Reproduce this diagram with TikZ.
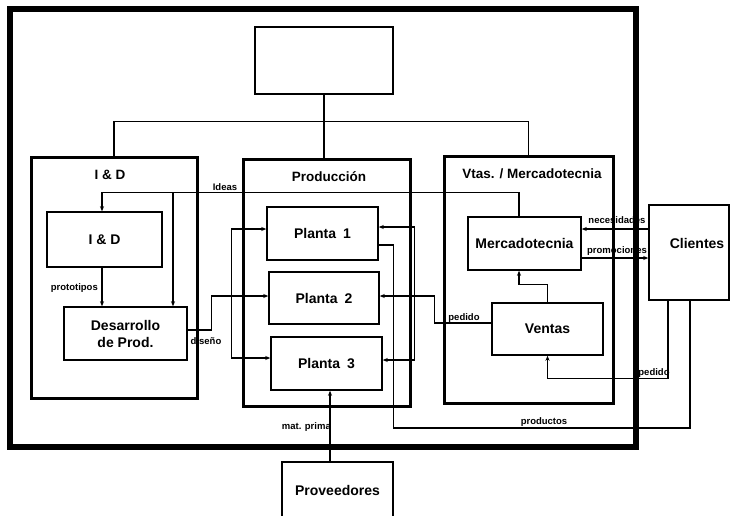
\documentclass[tikz,border=0pt]{standalone}
\usepackage{fontspec}
\setmainfont{Liberation Sans}
\usetikzlibrary{calc,arrows.meta}
\begin{document}
\begin{tikzpicture}[x=1pt,y=-1pt,
  unit/.style={draw,line width=1.5pt,inner sep=0pt,font=\bfseries\fontsize{14}{17}\selectfont,align=center},
  group/.style={draw,line width=3pt,inner sep=0pt},
  grouptitle/.style={font=\bfseries\fontsize{13.5}{16}\selectfont,inner sep=0pt},
  flowlabel/.style={font=\bfseries\fontsize{9.5}{11}\selectfont,inner sep=0pt},
  org/.style={line width=1.3pt},
  conn/.style={line width=1.3pt},
  arr/.style={conn,-{Stealth[length=5pt,width=4pt]}},
  darr/.style={conn,{Stealth[length=5pt,width=4pt]}-{Stealth[length=5pt,width=4pt]}}]
\useasboundingbox (0,0) rectangle (730,515);

% company frame
\draw[line width=6.5pt] (10,9) rectangle (636,447);

% top management
\node[unit,line width=2.5pt,minimum width=138,minimum height=67] (top) at (324,60.5) {};

% departments
\node[group,minimum width=166,minimum height=241] (gID) at (114,277.5) {};
\node[group,minimum width=167,minimum height=247] (gProd) at (326.5,282.5) {};
\node[group,minimum width=169,minimum height=247] (gVtas) at (528.5,279.5) {};
\node[grouptitle] (tID) at (110,175) {I \& D};
\node[grouptitle] (tProd) at (329,177) {Producción};
\node[grouptitle] (tVtas) at (532,174) {Vtas. / Mercadotecnia};

% units inside departments
\node[unit,minimum width=115,minimum height=55] (ID) at (104.5,239.5) {I \& D};
\node[unit,minimum width=123,minimum height=53] (Des) at (125.5,333.5) {Desarrollo\\de Prod.};
\node[unit,minimum width=111,minimum height=53] (P1) at (322.5,233.5) {Planta\enspace 1};
\node[unit,minimum width=110,minimum height=52] (P2) at (324,298) {Planta\enspace 2};
\node[unit,minimum width=111,minimum height=53] (P3) at (326.5,363.5) {Planta\enspace 3};
\node[unit,minimum width=113,minimum height=53] (Merc) at (524.5,243.5) {Mercadotecnia};
\node[unit,minimum width=111,minimum height=52] (Ventas) at (547.5,329) {Ventas};

% outside partners
\node[unit,minimum width=80,minimum height=95,
  label={[font=\bfseries\fontsize{14}{17}\selectfont,xshift=8pt,yshift=9pt]center:Clientes}] (Cli) at (689,252.5) {};
\node[inner sep=0pt,minimum width=111,minimum height=56,
  font=\bfseries\fontsize{14}{17}\selectfont] (Prov) at (337.5,490) {Proveedores};
\draw[line width=1.5pt] (Prov.south west) |- (Prov.north east) -- (Prov.south east);

% organisation chart lines
\draw[org] (top.south) -- (top.south |- gProd.north);
\draw[org] (gID.north) -- ++(0,-34) -| (gVtas.north);

% ideas
\coordinate (ideaM) at (173,193);
\draw[arr] ($(Merc.north)+(-5.5,0)$) |- ($(ID.north)+(-2.5,-19)$) -- ($(ID.north)+(-2.5,0)$);
\draw[arr] (ideaM) -- (ideaM |- Des.north);
\node[flowlabel] (lIdeas) at (225,187) {Ideas};

% prototypes
\draw[arr] ($(ID.south)+(-2.5,0)$) -- ($(Des.north)+(-23.5,0)$);
\node[flowlabel,anchor=east] (lProto) at (98,288) {prototipos};

% design to the plants
\draw[arr] ($(Des.east)+(0,-3.5)$) -- ++(24,0) |- ($(P2.west)+(0,-2)$);
\draw[darr] ($(P1.west)+(0,-4.5)$) -- ++(-35,0) |- ($(P3.west)+(0,-5.5)$);
\node[flowlabel] (lDis) at (206,341) {diseño};

% orders from sales to the plants
\draw[arr] ($(Ventas.west)+(0,-6)$) -- ++(-57,0) |- ($(P2.east)+(0,-2)$);
\draw[darr] ($(P1.east)+(0,-6.5)$) -- ++(36,0) |- ($(P3.east)+(0,-3.5)$);
\node[flowlabel] (lPed1) at (464,318) {pedido};

% products to customers
\draw[conn] ($(P1.east)+(0,11.5)$) -- ++(15,0) -- ++(0,183) -| ($(Cli.south)+(1,0)$);
\node[flowlabel] (lProd) at (544,422) {productos};

% raw material
\draw[arr] ($(Prov.north)+(-7.5,0)$) -- ($(P3.south)+(3.5,0)$);
\node[flowlabel,anchor=east] (lMat) at (331,427) {mat. prima};

% marketing and customers
\draw[arr] ($(Cli.west)+(0,-23.5)$) -- ($(Merc.east)+(0,-14.5)$);
\draw[arr] ($(Merc.east)+(0,14.5)$) -- ($(Cli.west)+(0,5.5)$);
\node[flowlabel] (lNec) at (617,220) {necesidades};
\node[flowlabel] (lProm) at (617,251) {promociones};

% sales feeding marketing
\draw[arr] (Ventas.north) -- ++(0,-18) -| ($(Merc.south)+(-5.5,0)$);

% customer orders
\draw[arr] ($(Cli.south)+(-21,0)$) -- ++(0,78) -| (Ventas.south);
\node[flowlabel] (lPed2) at (654,373) {pedido};
\end{tikzpicture}
\end{document}
